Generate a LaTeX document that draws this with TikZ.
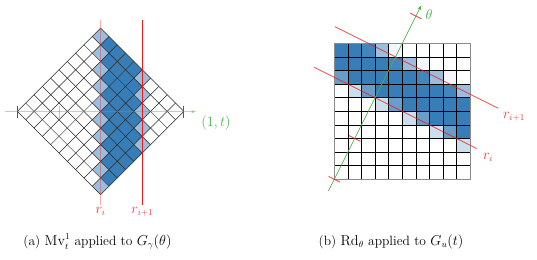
\documentclass[tikz,border=0pt]{standalone}
\usetikzlibrary{arrows.meta}
\definecolor{cbblue}{HTML}{377EB8}
\definecolor{cbred}{HTML}{E41A1C}
\definecolor{cbgreen}{HTML}{4DAF4A}
\begin{document}
\begin{tikzpicture}[x=1bp,y=-1bp,
  font=\fontsize{13.5}{16}\selectfont,
  gridline/.style={black!85,line width=0.5bp},
  rline/.style={cbred,line width=0.9bp},
  rlabel/.style={text=cbred!85!white},
  glabel/.style={text=cbgreen},
  tick/.style={cbred,line width=1bp},
  arr/.style={-{Stealth[length=5bp,width=3.5bp]}}]
\useasboundingbox (0,0) rectangle (537,259);

% ---------- left: rotated grid ----------
\begin{scope}[shift={(100.6,28.2)}, x={(8.32bp,-8.32bp)}, y={(-8.32bp,-8.32bp)}]
  \foreach \p in {0,...,9}{
    \foreach \q in {0,...,9}{
      \pgfmathtruncatemacro\dd{\p-\q}
      \pgfmathtruncatemacro\pc{ifthenelse(\dd==0||\dd==5,50,ifthenelse(\dd>0&&\dd<5,100,0))}
      \ifnum\pc>0
        \fill[cbblue!\pc!white] (\p,\q) -- ++(1,0) -- ++(0,1) -- ++(-1,0) -- cycle;
      \fi
    }
  }
  \foreach \k in {0,...,10}{
    \draw[gridline] (\k,0) -- (\k,10);
    \draw[gridline] (0,\k) -- (10,\k);
  }
\end{scope}

% axis and lines (left)
\coordinate (La) at (5,111.6);
\coordinate (Lb) at (196,111.6);
\draw[cbgreen,opacity=0.45,line width=1.4bp,arr] (La) -- (Lb);
\node[glabel] (lt) at (216,122.5) {$(1,t)$};
\draw[tick] (17.4,105.6) -- (17.4,117.6);
\draw[tick] (183.8,105.6) -- (183.8,117.6);
\draw[tick,opacity=0.35] (59,105.6) -- (59,117.6);
\coordinate (ri1) at (100.6,20);
\coordinate (ri2) at (100.6,205);
\coordinate (rj1) at (142.3,20);
\coordinate (rj2) at (142.3,205);
\draw[rline,opacity=0.35,line width=1.2bp] (ri1) -- (ri2);
\draw[rline] (rj1) -- (rj2);
\node[rlabel,anchor=north,inner sep=2bp] (lri) at (ri2) {$r_i$};
\node[rlabel,anchor=north,inner sep=2bp] (lrj) at (rj2) {$r_{i+1}$};

% ---------- right: square grid ----------
\begin{scope}[shift={(334.3,43.3)}, x={(13.6bp,0)}, y={(0,-13.6bp)}]
  \foreach \c/\r/\v in {0/0/100,1/0/100,2/0/94,3/0/50,4/0/6,
     0/1/100,1/1/100,2/1/100,3/1/100,4/1/94,5/1/50,6/1/6,
     0/2/75,1/2/100,2/2/100,3/2/100,4/2/100,5/2/100,6/2/94,7/2/50,8/2/6,
     1/3/25,2/3/75,3/3/100,4/3/100,5/3/100,6/3/100,7/3/100,8/3/94,9/3/50,
     3/4/25,4/4/75,5/4/100,6/4/100,7/4/100,8/4/100,9/4/100,
     5/5/25,6/5/75,7/5/100,8/5/100,9/5/100,
     7/6/25,8/6/75,9/6/100,
     9/7/25}{
    \fill[cbblue!\v!white] (\c,\r) rectangle ++(1,1);
  }
  \foreach \k in {1,...,9}{
    \draw[gridline,black] (\k,0) -- (\k,10);
    \draw[gridline,black] (0,\k) -- (10,\k);
  }
  \draw[black!45,line width=1.2bp] (0,0) rectangle (10,10);
  % red lines
  \coordinate (a1) at (0.05,-1.225);
  \coordinate (a2) at (12.06,4.78);
  \coordinate (b1) at (-1.49,1.755);
  \coordinate (b2) at (10.47,7.735);
  \draw[rline,opacity=0.7] (a1) -- (a2);
  \draw[rline,opacity=0.7] (b1) -- (b2);
  % green direction
  \coordinate (g1) at (-0.43,10.86);
  \coordinate (g2) at (6.4,-2.8);
  \draw[cbgreen,line width=0.7bp,arr] (g1) -- (g2);
  \draw[tick,opacity=0.7] (-0.42,9.79) -- (0.42,10.21);
  \draw[tick,opacity=0.7] (1.08,6.79) -- (1.92,7.21);
  \draw[tick,opacity=0.7] (5.58,-2.21) -- (6.42,-1.79);
\end{scope}
\node[glabel] (th) at (429,15) {$\theta$};
\node[rlabel] (rr1) at (514,117) {$r_{i+1}$};
\node[rlabel] (rr2) at (488,157) {$r_i$};

% captions
\node (capa) at (97.5,241.5) {(a) $\mathrm{Mv}_t^1$ applied to $G_\gamma(\theta)$};
\node (capb) at (391,241.5) {(b) $\mathrm{Rd}_\theta$ applied to $G_u(t)$};
\end{tikzpicture}
\end{document}
